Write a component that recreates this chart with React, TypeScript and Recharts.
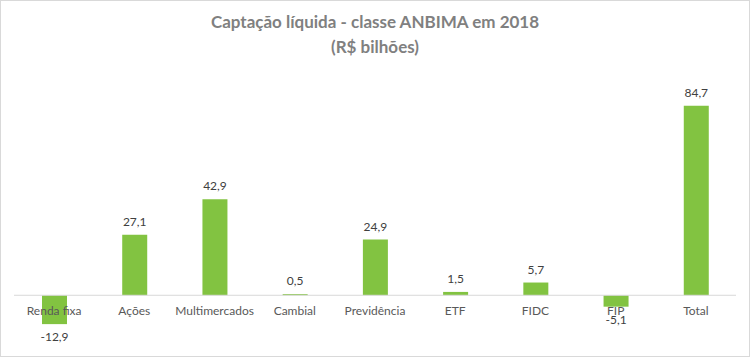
import { BarChart, Bar, XAxis, YAxis, ReferenceLine, LabelList } from 'recharts';

const categories = ['Renda fixa', 'Ações', 'Multimercados', 'Cambial', 'Previdência', 'ETF', 'FIDC', 'FIP', 'Total'];
const values = [-12.9, 27.1, 42.9, 0.5, 24.9, 1.5, 5.7, -5.1, 84.7];

const data = categories.map((name, i) => ({ name, value: values[i] }));

const FONT = 'Lato, "Open Sans", sans-serif';
const fmt = (v: number) => v.toFixed(1).replace('.', ',');

function ValueLabel(props: any) {
  const { x, y, width, height, value } = props;
  const top = Math.min(y, y + height);
  const bottom = Math.max(y, y + height);
  const neg = value < 0;
  return (
    <text
      x={x + width / 2}
      y={neg ? bottom + 17 : top - 9}
      textAnchor="middle"
      fontSize={12}
      fontFamily={FONT}
      fill="#404040"
    >
      {fmt(value)}
    </text>
  );
}

export default function App() {
  return (
    <div
      style={{
        position: 'absolute',
        left: 0,
        top: 0,
        width: 750,
        height: 357,
        boxSizing: 'border-box',
        border: '1px solid #d9d9d9',
        background: '#fff',
        fontFamily: FONT,
      }}
    >
      <div style={{ position: 'absolute', top: 8, width: '100%', textAlign: 'center', color: '#808080', fontWeight: 700, fontSize: 17, lineHeight: '25px' }}>
        Captação líquida - classe ANBIMA em 2018
        <br />
        (R$ bilhões)
      </div>
      <BarChart
        width={748}
        height={355}
        data={data}
        margin={{ top: 93, right: 13, bottom: 0, left: 13 }}
        barSize={25}
        style={{ position: 'absolute', left: 0, top: 0 }}
      >
        <YAxis hide domain={[-20, 90]} />
        <XAxis
          dataKey="name"
          axisLine={false}
          tickLine={false}
          height={16}
          interval={0}
          tick={{ fontSize: 12, fill: '#595959', fontFamily: FONT, dy: -42 }}
        />
        <ReferenceLine y={0} stroke="#d9d9d9" strokeWidth={1} />
        <Bar dataKey="value" fill="#82c341" isAnimationActive={false}>
          <LabelList dataKey="value" content={ValueLabel} />
        </Bar>
      </BarChart>
    </div>
  );
}
